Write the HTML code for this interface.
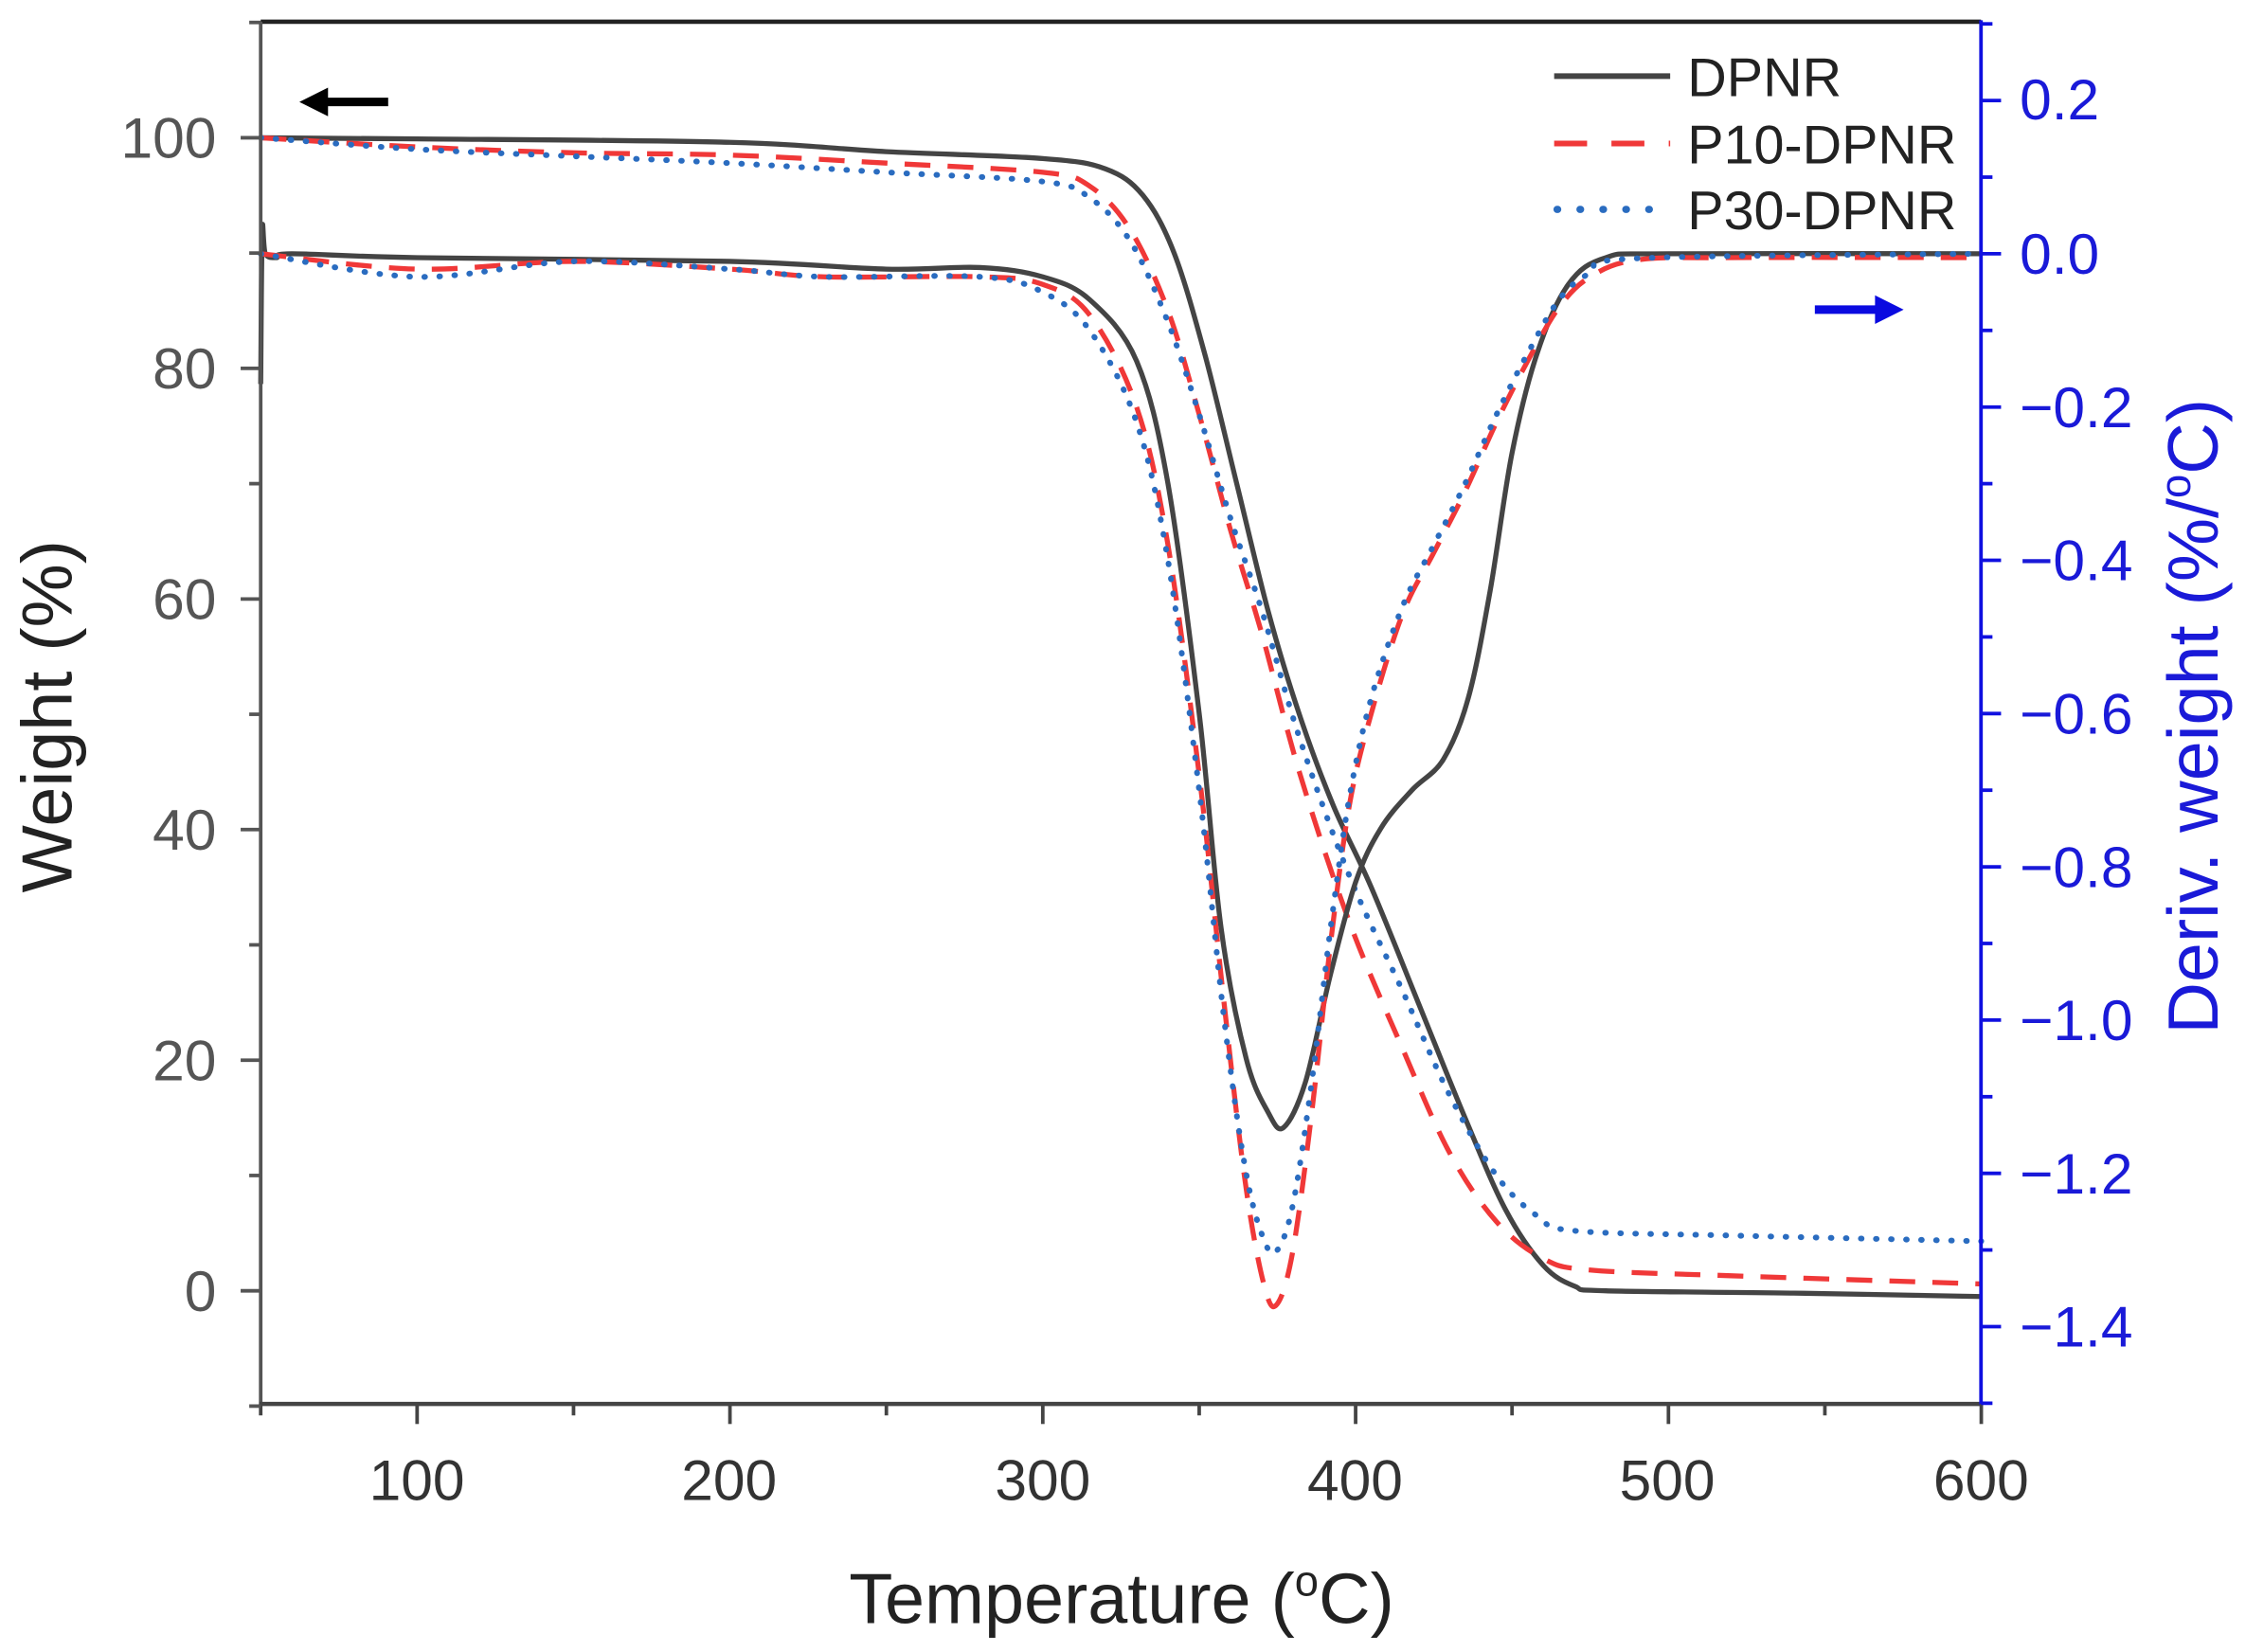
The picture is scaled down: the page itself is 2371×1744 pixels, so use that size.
<!DOCTYPE html>
<html><head><meta charset="utf-8"><style>
html,body{margin:0;padding:0;background:#fff}
svg{display:block}
text{font-family:"Liberation Sans",Arial,sans-serif}
</style></head><body>
<svg id="s" width="2371" height="1744" viewBox="0 0 1568 1153" xmlns="http://www.w3.org/2000/svg">
<rect width="1568" height="1153" fill="#fff"/>
<g id="curves" fill="none" stroke-linejoin="round" stroke-linecap="butt"></g>
<line x1="182" y1="15" x2="1383" y2="15" stroke="#222" stroke-width="3"/>
<line x1="182" y1="15" x2="182" y2="981" stroke="#555" stroke-width="2.5"/>
<line x1="181" y1="980" x2="1383" y2="980" stroke="#444" stroke-width="3"/>
<line x1="1383" y1="14" x2="1383" y2="981" stroke="#1010e0" stroke-width="2.5"/>
<g id="ticks"></g>
<g font-size="40" fill="#333" text-anchor="middle">
<text x="291" y="1047">100</text><text x="509" y="1047">200</text><text x="728" y="1047">300</text>
<text x="946" y="1047">400</text><text x="1164" y="1047">500</text><text x="1383" y="1047">600</text>
</g>
<g font-size="40" fill="#555" text-anchor="end">
<text x="151" y="110">100</text><text x="151" y="271">80</text><text x="151" y="432">60</text>
<text x="151" y="593">40</text><text x="151" y="754">20</text><text x="151" y="915">0</text>
</g>
<g font-size="40" fill="#1a1ad8" text-anchor="start">
<text x="1410" y="83">0.2</text><text x="1410" y="191">0.0</text>
<text x="1410" y="298">−0.2</text><text x="1410" y="405">−0.4</text><text x="1410" y="512">−0.6</text>
<text x="1410" y="619">−0.8</text><text x="1410" y="726">−1.0</text><text x="1410" y="833">−1.2</text>
<text x="1410" y="940">−1.4</text>
</g>
<text x="783" y="1133" font-size="50" fill="#222" text-anchor="middle">Temperature (<tspan font-size="30" dy="-19">o</tspan><tspan dy="19">C)</tspan></text>
<text transform="translate(50,500) rotate(-90)" font-size="50" fill="#222" text-anchor="middle">Weight (%)</text>
<text transform="translate(1548,500) rotate(-90)" font-size="50" fill="#1a1ad8" text-anchor="middle">Deriv. weight (%/<tspan font-size="30" dy="-19">o</tspan><tspan dy="19">C)</tspan></text>
<line x1="1085" y1="53" x2="1166" y2="53" stroke="#444" stroke-width="4"/>
<line x1="1085" y1="100" x2="1166" y2="100" stroke="#f03838" stroke-width="4" stroke-dasharray="23,17"/>
<line x1="1087" y1="146" x2="1166" y2="146" stroke="#2a6cc0" stroke-width="5" stroke-dasharray="0.5,15.5" stroke-linecap="round"/>
<g font-size="38" fill="#222"><text x="1178" y="67">DPNR</text><text x="1178" y="114">P10-DPNR</text><text x="1178" y="160">P30-DPNR</text></g>
<line x1="225" y1="71" x2="271" y2="71" stroke="#000" stroke-width="6"/>
<polygon points="209,71 229,61 229,81" fill="#000"/>
<line x1="1267" y1="216" x2="1312" y2="216" stroke="#0a0ae0" stroke-width="6"/>
<polygon points="1329,216 1309,206 1309,226" fill="#0a0ae0"/>
</svg>
<script>
var NS="http://www.w3.org/2000/svg";
function X(t){return 182+(t-50)*2.184;}
function YL(w){return 901-w*8.05;}
function YR(d){return 177-d*535;}
function path(pts){
 var d="M"+pts[0][0].toFixed(1)+","+pts[0][1].toFixed(1);
 for(var i=0;i<pts.length-1;i++){
  var p0=pts[i-1]||pts[i],p1=pts[i],p2=pts[i+1],p3=pts[i+2]||p2;
  var c1=[p1[0]+(p2[0]-p0[0])/6,p1[1]+(p2[1]-p0[1])/6];
  var c2=[p2[0]-(p3[0]-p1[0])/6,p2[1]-(p3[1]-p1[1])/6];
  d+=" C"+c1[0].toFixed(1)+","+c1[1].toFixed(1)+" "+c2[0].toFixed(1)+","+c2[1].toFixed(1)+" "+p2[0].toFixed(1)+","+p2[1].toFixed(1);
 }
 return d;
}
function add(data,fy,style){
 var p=document.createElementNS(NS,"path");
 p.setAttribute("d",path(data.map(function(a){return [X(a[0]),fy(a[1])];})));
 for(var k in style)p.setAttribute(k,style[k]);
 document.getElementById("curves").appendChild(p);
}
var blk={stroke:"#444","stroke-width":"3.5"};
var red={stroke:"#f03838","stroke-width":"3.5","stroke-dasharray":"18,12"};
var blu={stroke:"#2a6cc0","stroke-width":"4","stroke-dasharray":"0.5,10","stroke-linecap":"round"};
add([[50,100],[100,99.9],[200,99.6],[250,98.8],[300,98.2],[320,97.3],[332,95],[342,90],[352,81],[362,70],[372,59],[382,50],[393,42],[405,35],[420,25],[435,15],[448,7],[460,2.2],[470,0.4],[480,0],[540,-0.2],[600,-0.5]],YL,blk);
add([[50,100],[100,99.2],[150,98.7],[200,98.5],[250,97.8],[300,97],[315,95.8],[328,92],[340,85],[350,76],[360,66],[370,57],[382,45],[398,32],[415,21],[430,12],[445,6],[460,2.8],[475,1.8],[520,1.3],[600,0.6]],YL,red);
add([[50,100],[100,99],[150,98.4],[200,97.8],[250,97],[300,96.2],[315,94.8],[328,91],[340,84],[350,76],[360,67],[370,59],[382,48],[398,36],[415,26],[430,17],[445,10],[458,6.5],[470,5.2],[520,4.8],[600,4.3]],YL,blu);
add([[50,-0.17],[50.5,0.03],[51.5,0.0],[55,-0.005],[60,-0.0],[100,-0.005],[200,-0.01],[250,-0.02],[280,-0.018],[300,-0.03],[315,-0.06],[330,-0.14],[340,-0.3],[350,-0.6],[357,-0.88],[365,-1.05],[372,-1.12],[377,-1.14],[384,-1.08],[392,-0.94],[400,-0.82],[408,-0.75],[418,-0.7],[428,-0.66],[436,-0.58],[443,-0.44],[450,-0.26],[458,-0.13],[468,-0.04],[480,-0.005],[500,0],[600,0]],YR,blk);
add([[50,0],[100,-0.02],[150,-0.01],[200,-0.02],[230,-0.03],[280,-0.03],[300,-0.04],[315,-0.08],[330,-0.2],[340,-0.38],[350,-0.68],[358,-0.98],[365,-1.22],[371,-1.35],[375,-1.37],[380,-1.3],[386,-1.12],[392,-0.9],[398,-0.72],[405,-0.6],[415,-0.47],[425,-0.39],[435,-0.31],[445,-0.22],[455,-0.14],[465,-0.07],[475,-0.03],[490,-0.008],[520,-0.005],[600,-0.005]],YR,red);
add([[50,0],[100,-0.03],[150,-0.01],[200,-0.02],[230,-0.03],[280,-0.03],[300,-0.05],[315,-0.1],[330,-0.22],[340,-0.4],[350,-0.7],[358,-1.0],[365,-1.2],[371,-1.29],[375,-1.3],[380,-1.24],[386,-1.08],[392,-0.88],[398,-0.71],[405,-0.58],[415,-0.46],[425,-0.38],[435,-0.3],[445,-0.21],[455,-0.13],[465,-0.06],[475,-0.025],[490,-0.006],[600,0]],YR,blu);
var g=document.getElementById("ticks"),h="";
for(var t=50;t<=600;t+=50){var x=X(t),len=(t%100==0)?14:8;h+='<line x1="'+x+'" y1="980" x2="'+x+'" y2="'+(980+len)+'" stroke="#444" stroke-width="2.5"/>';}
for(var w=-10;w<=110;w+=10){var y=YL(w),len=(w%20==0)?14:8;h+='<line x1="182" y1="'+y+'" x2="'+(182-len)+'" y2="'+y+'" stroke="#555" stroke-width="2.5"/>';}
for(var i=-15;i<=3;i++){var d=i/10,y=YR(d),len=(i%2==0)?14:8;h+='<line x1="1383" y1="'+y+'" x2="'+(1383+len)+'" y2="'+y+'" stroke="#1010e0" stroke-width="2.5"/>';}
g.innerHTML=h;
</script>
</body></html>
